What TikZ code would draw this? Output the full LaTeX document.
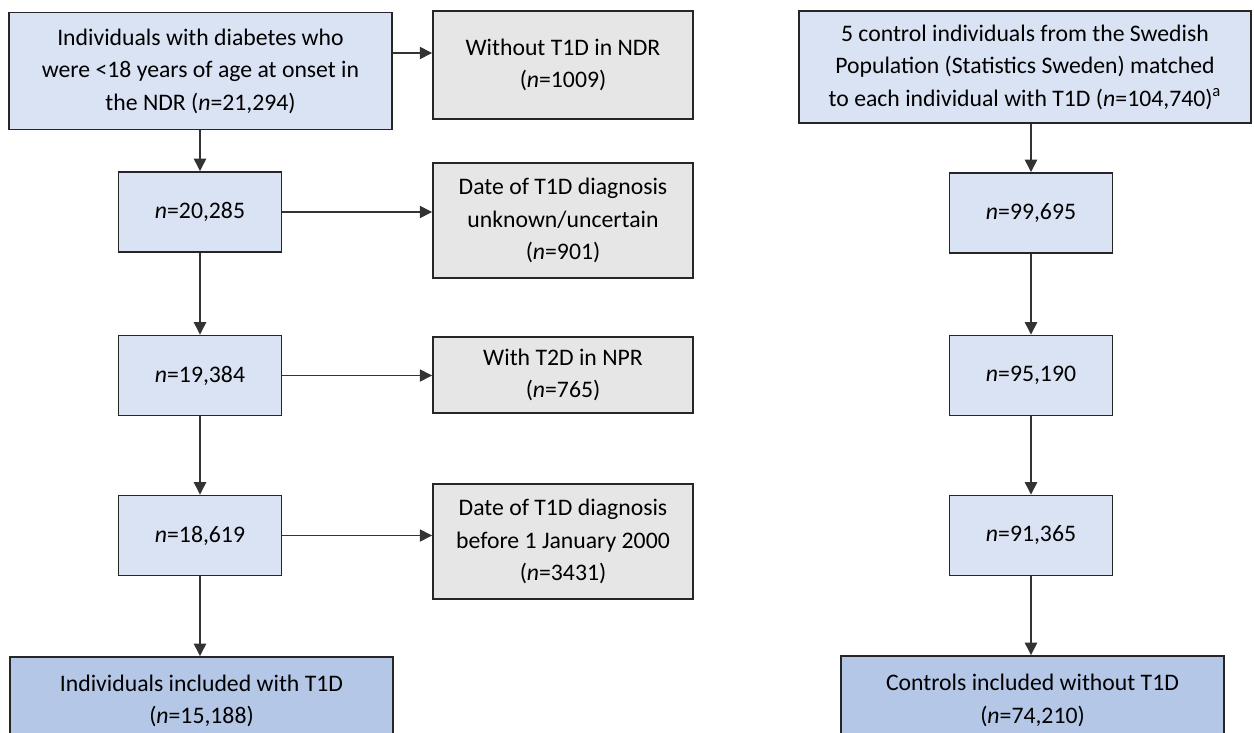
\documentclass[tikz,border=0pt]{standalone}
\usepackage{fontspec}
\setmainfont{Carlito}
\usetikzlibrary{arrows.meta}
\definecolor{boxblue}{HTML}{DAE3F3}
\definecolor{boxgray}{HTML}{E7E6E6}
\definecolor{boxdark}{HTML}{B4C7E7}
\begin{document}
\begin{tikzpicture}[x=0.02cm, y=-0.02cm, font=\fontsize{13.5}{18.5}\selectfont,
  box/.style={rectangle, draw=black!85, line width=1.1pt, inner sep=0pt, align=center, fill=#1},
  wide/.style={minimum width=7.66cm},
  nbox/.style={minimum width=3.26cm, minimum height=1.6cm},
  side/.style={minimum width=5.2cm},
  arr/.style={draw=black!80, line width=0.75pt, -{Triangle[width=7pt,length=7pt]}}]
  \useasboundingbox (0,0) rectangle (1254,733);
  \clip (0,0) rectangle (1254,733);
  % cases
  \node[box=boxblue, wide, minimum height=2.34cm] (ndr) at (200.5,71) {Individuals with diabetes who\\were <18 years of age at onset in\\the NDR (\textit{n}=21,294)};
  \node[box=boxblue, nbox] (n1) at (200,212) {\textit{n}=20,285};
  \node[box=boxblue, nbox] (n2) at (200,375.5) {\textit{n}=19,384};
  \node[box=boxblue, nbox] (n3) at (200,535.5) {\textit{n}=18,619};
  \node[box=boxdark, wide, minimum height=1.76cm] (cases) at (201.5,701) {Individuals included with T1D\\(\textit{n}=15,188)};
  % exclusions
  \node[box=boxgray, side, minimum height=2.16cm] (ex1) at (563,65) {Without T1D in NDR\\(\textit{n}=1009)};
  \node[box=boxgray, side, minimum height=2.3cm] (ex2) at (563,220.5) {Date of T1D diagnosis\\unknown/uncertain\\(\textit{n}=901)};
  \node[box=boxgray, side, minimum height=1.52cm] (ex3) at (563,375) {With T2D in NPR\\(\textit{n}=765)};
  \node[box=boxgray, side, minimum height=2.3cm] (ex4) at (563,541.5) {Date of T1D diagnosis\\before 1 January 2000\\(\textit{n}=3431)};
  % controls
  \node[box=boxblue, minimum width=9.04cm, minimum height=2.24cm] (pop) at (1025,67) {5 control individuals from the Swedish\\Population (Statistics Sweden) matched\\to each individual with T1D (\textit{n}=104,740)\textsuperscript{a}};
  \node[box=boxblue, nbox] (r1) at (1031,213) {\textit{n}=99,695};
  \node[box=boxblue, nbox] (r2) at (1031,375.5) {\textit{n}=95,190};
  \node[box=boxblue, nbox] (r3) at (1031,535.5) {\textit{n}=91,365};
  \node[box=boxdark, wide, minimum height=1.78cm] (ctrl) at (1032.5,700.5) {Controls included without T1D\\(\textit{n}=74,210)};
  % arrows
  \draw[arr] (ndr.south -| n1) -- (n1);
  \draw[arr] (n1) -- (n2);
  \draw[arr] (n2) -- (n3);
  \draw[arr] (n3) -- (n3 |- cases.north);
  \draw[arr] ([yshift=0.36cm]ndr.east) -- ([yshift=0.36cm]ndr.east -| ex1.west);
  \draw[arr] (n1.east) -- (n1.east -| ex2.west);
  \draw[arr] (n2.east) -- (n2.east -| ex3.west);
  \draw[arr] (n3.east) -- (n3.east -| ex4.west);
  \draw[arr] (pop.south -| r1) -- (r1);
  \draw[arr] (r1) -- (r2);
  \draw[arr] (r2) -- (r3);
  \draw[arr] (r3) -- (r3 |- ctrl.north);
\end{tikzpicture}
\end{document}
